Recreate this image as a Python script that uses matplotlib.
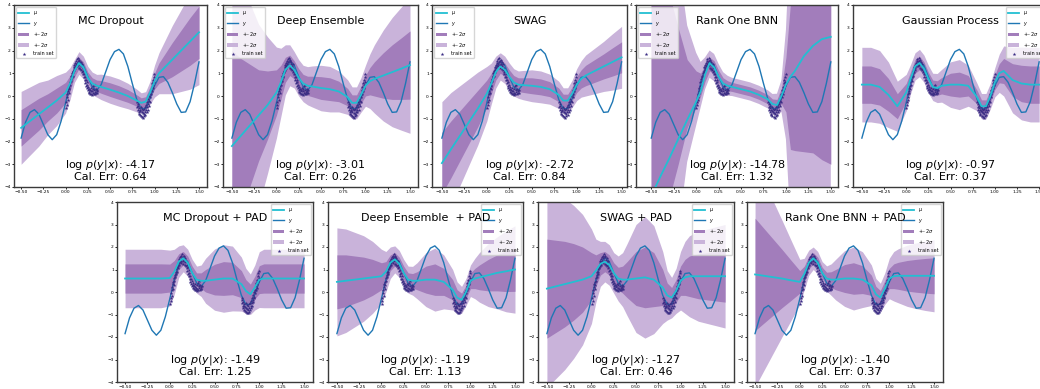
import numpy as np
import matplotlib.pyplot as plt

# ground truth function, sampled every 0.05 on [-0.5, 1.5]
X_TRUE = np.linspace(-0.5, 1.5, 41)
Y_TRUE = [-1.85, -1.15, -0.72, -0.6, -0.8, -1.25, -1.7, -1.92, -1.7, -1.1,
          -0.3, 0.55, 1.2, 1.52, 1.35, 0.85, 0.4, 0.25, 0.5, 1.05,
          1.6, 1.95, 2.05, 1.85, 1.3, 0.55, -0.15, -0.55, -0.55, -0.1,
          0.45, 0.82, 0.85, 0.6, 0.15, -0.35, -0.72, -0.7, -0.25, 0.55, 1.5]

# training points, two clusters
TRAIN_X = [0.003, 0.008, 0.012, 0.017, 0.021, 0.024, 0.029, 0.033, 0.036, 0.041,
           0.044, 0.048, 0.052, 0.057, 0.061, 0.064, 0.069, 0.073, 0.078, 0.082,
           0.086, 0.091, 0.094, 0.099, 0.103, 0.108, 0.112, 0.117, 0.121, 0.126,
           0.13, 0.134, 0.139, 0.143, 0.147, 0.152, 0.156, 0.161, 0.165, 0.169,
           0.174, 0.178, 0.183, 0.187, 0.191, 0.196, 0.2, 0.205, 0.209, 0.214,
           0.218, 0.223, 0.227, 0.231, 0.236, 0.24, 0.245, 0.249, 0.254, 0.258,
           0.263, 0.267, 0.272, 0.276, 0.281, 0.285, 0.29, 0.294, 0.299, 0.303,
           0.308, 0.312, 0.317, 0.321, 0.326, 0.33, 0.335, 0.339, 0.344, 0.348,
           0.353, 0.358,
           0.802, 0.806, 0.81, 0.814, 0.818, 0.822, 0.826, 0.83, 0.834, 0.838,
           0.842, 0.846, 0.85, 0.854, 0.858, 0.862, 0.866, 0.87, 0.874, 0.878,
           0.882, 0.886, 0.89, 0.894, 0.898, 0.902, 0.906, 0.91, 0.914, 0.918,
           0.922, 0.926, 0.93, 0.934, 0.938, 0.942, 0.946, 0.95, 0.954, 0.958,
           0.962, 0.966, 0.97, 0.974, 0.978, 0.982, 0.986, 0.99, 0.994, 0.998]
TRAIN_Y = [-0.52, -0.25, -0.38, -0.05, 0.08, -0.18, 0.22, 0.35, 0.12, 0.45,
           0.32, 0.62, 0.5, 0.74, 0.66, 0.9, 0.82, 1.02, 0.88, 1.12,
           1.05, 1.28, 1.16, 1.38, 1.22, 1.45, 1.33, 1.55, 1.4, 1.62,
           1.3, 1.5, 1.68, 1.38, 1.56, 1.25, 1.6, 1.42, 1.18, 1.5,
           1.32, 1.15, 1.4, 1.05, 1.22, 0.95, 1.1, 0.82, 0.98, 0.7,
           0.85, 0.58, 0.72, 0.45, 0.6, 0.35, 0.48, 0.25, 0.4, 0.18,
           0.32, 0.12, 0.28, 0.08, 0.22, 0.35, 0.1, 0.2, 0.05, 0.3,
           0.15, 0.42, 0.1, 0.25, 0.5, 0.18, 0.08, 0.3, 0.15, 0.22,
           0.12, 0.28,
           -0.28, -0.5, -0.35, -0.62, -0.45, -0.7, -0.52, -0.78, -0.6, -0.85,
           -0.66, -0.5, -0.88, -0.72, -0.58, -0.92, -0.75, -0.62, -0.95, -0.8,
           -0.55, -0.88, -0.7, -0.5, -0.82, -0.62, -0.4, -0.72, -0.5, -0.28,
           -0.6, -0.35, -0.15, -0.45, -0.2, 0.02, -0.25, 0.1, -0.05, 0.25,
           0.08, 0.4, 0.2, 0.55, 0.35, 0.7, 0.5, 0.85, 0.62, 0.95]

# predictive mean / std, tabulated on this grid
X_PRED = [-0.5, -0.4, -0.3, -0.2, -0.1, 0.0, 0.05, 0.1, 0.15, 0.2,
          0.25, 0.3, 0.35, 0.4, 0.5, 0.6, 0.7, 0.8, 0.85, 0.9,
          0.95, 1.0, 1.05, 1.1, 1.2, 1.3, 1.4, 1.5]

MCD_MU = [-1.4, -1.1, -0.8, -0.5, -0.2, 0.15, 0.55, 1.1, 1.45, 1.25,
          0.8, 0.55, 0.45, 0.4, 0.28, 0.15, 0.0, -0.2, -0.3, -0.25,
          0.15, 0.65, 1.0, 1.2, 1.6, 2.0, 2.4, 2.8]
MCD_SD = [0.8, 0.75, 0.7, 0.6, 0.55, 0.45, 0.35, 0.25, 0.25, 0.25,
          0.25, 0.25, 0.25, 0.28, 0.3, 0.3, 0.28, 0.25, 0.22, 0.22,
          0.25, 0.35, 0.45, 0.55, 0.75, 0.9, 1.05, 1.15]

DE_MU = [-2.2, -1.75, -1.3, -0.85, -0.4, 0.15, 0.6, 1.15, 1.35, 1.15,
         0.8, 0.55, 0.45, 0.42, 0.35, 0.3, 0.2, -0.05, -0.3, -0.3,
         0.05, 0.45, 0.65, 0.75, 0.9, 1.05, 1.2, 1.36]
DE_SD = [4.2, 3.4, 2.7, 2.0, 1.5, 1.0, 0.75, 0.55, 0.45, 0.4,
         0.4, 0.4, 0.42, 0.45, 0.5, 0.5, 0.45, 0.38, 0.35, 0.35,
         0.38, 0.45, 0.6, 0.75, 1.0, 1.2, 1.35, 1.5]

SWAG_MU = [-2.95, -2.35, -1.75, -1.15, -0.55, 0.1, 0.55, 1.05, 1.3, 1.15,
           0.85, 0.6, 0.5, 0.48, 0.45, 0.4, 0.3, 0.05, -0.2, -0.2,
           0.1, 0.5, 0.75, 0.9, 1.1, 1.3, 1.5, 1.7]
SWAG_SD = [1.35, 1.25, 1.1, 0.95, 0.8, 0.6, 0.45, 0.35, 0.3, 0.3,
           0.3, 0.3, 0.3, 0.32, 0.35, 0.35, 0.33, 0.3, 0.28, 0.28,
           0.3, 0.35, 0.4, 0.45, 0.5, 0.55, 0.62, 0.68]

# rank-one BNN: the band is not centred on the plotted mean
R1_MU = [-4.4, -3.55, -2.75, -1.9, -1.05, -0.25, 0.2, 0.95, 1.45, 1.25,
         0.85, 0.55, 0.45, 0.4, 0.3, 0.2, 0.05, -0.15, -0.35, -0.4,
         0.0, 0.5, 0.85, 1.1, 1.75, 2.2, 2.5, 2.6]
R1_MID = [0.0, 0.0, 0.0, 0.0, 0.1, 0.3, 0.5, 1.0, 1.4, 1.25,
          0.85, 0.55, 0.45, 0.4, 0.3, 0.2, 0.05, -0.15, -0.35, -0.4,
          0.0, 0.5, 0.85, 0.9, 0.95, 1.0, 1.0, 1.0]
R1_SD = [6.0, 5.5, 4.5, 3.0, 1.5, 0.8, 0.5, 0.35, 0.3, 0.3,
         0.28, 0.25, 0.22, 0.2, 0.2, 0.2, 0.2, 0.2, 0.22, 0.25,
         0.35, 1.2, 3.2, 3.3, 3.4, 3.5, 3.8, 4.0]

GP_MU = [0.5, 0.5, 0.4, 0.05, -0.45, 0.15, 0.75, 1.3, 1.45, 1.2,
         0.75, 0.4, 0.35, 0.45, 0.5, 0.5, 0.45, -0.05, -0.45, -0.45,
         0.0, 0.6, 1.0, 1.1, 0.7, 0.55, 0.5, 0.5]
GP_SD = [0.82, 0.82, 0.8, 0.72, 0.55, 0.4, 0.32, 0.3, 0.3, 0.3,
         0.3, 0.3, 0.32, 0.36, 0.5, 0.55, 0.45, 0.3, 0.28, 0.28,
         0.28, 0.32, 0.42, 0.55, 0.72, 0.8, 0.82, 0.82]

MCDP_MU = [0.6, 0.6, 0.6, 0.6, 0.6, 0.62, 0.9, 1.35, 1.5, 1.3,
           0.85, 0.55, 0.5, 0.5, 0.55, 0.6, 0.6, 0.35, 0.05, -0.1,
           0.2, 0.55, 0.6, 0.6, 0.6, 0.6, 0.6, 0.6]
MCDP_SD = [0.65, 0.65, 0.65, 0.65, 0.65, 0.62, 0.5, 0.35, 0.3, 0.3,
           0.3, 0.3, 0.35, 0.5, 0.68, 0.75, 0.72, 0.6, 0.5, 0.45,
           0.5, 0.62, 0.65, 0.65, 0.65, 0.65, 0.65, 0.65]

DEP_MU = [0.45, 0.5, 0.55, 0.6, 0.65, 0.7, 0.9, 1.3, 1.45, 1.25,
          0.85, 0.55, 0.5, 0.5, 0.55, 0.55, 0.45, 0.1, -0.25, -0.35,
          0.0, 0.5, 0.6, 0.65, 0.75, 0.85, 0.92, 1.0]
DEP_SD = [1.2, 1.15, 1.05, 0.95, 0.8, 0.6, 0.45, 0.35, 0.3, 0.3,
          0.3, 0.3, 0.32, 0.4, 0.6, 0.7, 0.6, 0.45, 0.35, 0.3,
          0.3, 0.35, 0.45, 0.55, 0.7, 0.8, 0.9, 0.97]

SWP_MU = [0.15, 0.25, 0.35, 0.45, 0.55, 0.7, 0.95, 1.25, 1.35, 1.2,
          0.85, 0.6, 0.55, 0.55, 0.6, 0.65, 0.55, 0.2, -0.15, -0.25,
          0.05, 0.5, 0.65, 0.7, 0.7, 0.7, 0.7, 0.7]
SWP_SD = [2.2, 2.05, 1.9, 1.7, 1.45, 1.05, 0.7, 0.5, 0.45, 0.45,
          0.45, 0.5, 0.6, 0.8, 1.2, 1.35, 1.2, 0.8, 0.55, 0.45,
          0.5, 0.65, 0.8, 0.9, 1.0, 1.05, 1.1, 1.15]

R1P_MU = [0.78, 0.72, 0.66, 0.6, 0.52, 0.45, 0.8, 1.3, 1.5, 1.3,
          0.85, 0.6, 0.55, 0.55, 0.6, 0.6, 0.55, 0.3, -0.1, -0.25,
          0.15, 0.6, 0.7, 0.72, 0.72, 0.72, 0.72, 0.72]
R1P_SD = [2.5, 2.1, 1.7, 1.3, 0.9, 0.5, 0.35, 0.28, 0.25, 0.25,
          0.25, 0.28, 0.35, 0.45, 0.62, 0.7, 0.62, 0.45, 0.35, 0.32,
          0.35, 0.45, 0.55, 0.6, 0.68, 0.73, 0.77, 0.8]

TITLES = ["MC Dropout", "Deep Ensemble", "SWAG", "Rank One BNN", "Gaussian Process",
          "MC Dropout + PAD", "Deep Ensemble  + PAD", "SWAG + PAD", "Rank One BNN + PAD"]
LOG_LIK = ["-4.17", "-3.01", "-2.72", "-14.78", "-0.97", "-1.49", "-1.19", "-1.27", "-1.40"]
CAL_ERR = ["0.64", "0.26", "0.84", "1.32", "0.37", "1.25", "1.13", "0.46", "0.37"]

MU_COLOR = "#22bfd2"
Y_COLOR = "#1f77b4"
DARK = "#a27dbb"
LIGHT = "#c9b3da"
PT_COLOR = "#3b2d84"

FIG_W, FIG_H = 1040, 389
# axes boxes in pixels: left, top, right, bottom
BOXES = [(14, 5, 207, 187), (223, 5, 418, 187), (432, 5, 627, 187),
         (636, 5, 838, 187), (853, 5, 1048, 187),
         (117, 202, 313, 382), (328, 202, 523, 382), (538, 202, 734, 382),
         (747, 202, 943, 382)]
XLIMS = [(-0.58, 1.59), (-0.6, 1.59), (-0.61, 1.56), (-0.67, 1.58), (-0.6, 1.6),
         (-0.59, 1.6), (-0.6, 1.59), (-0.6, 1.6), (-0.59, 1.6)]
LEGEND_LOCS = ["upper left"] * 4 + ["upper right"] * 5


def draw_panel(ax, mu, sd, mid, title, ll, ce, loc, xlim):
    x = np.array(X_PRED)
    mu = np.array(mu)
    sd = np.array(sd)
    c = mu if mid is None else np.array(mid)

    ax.plot(x, mu, color=MU_COLOR, lw=1.3, label=r"$\mu$", zorder=5)
    ax.plot(X_TRUE, Y_TRUE, color=Y_COLOR, lw=1.0, label=r"$y$", zorder=3)
    ax.fill_between(x, c - sd, c + sd, color=DARK, lw=0,
                    label=r"+- 2$\sigma$", zorder=2)
    ax.fill_between(x, c - 2 * sd, c + 2 * sd, color=LIGHT, lw=0,
                    label=r"+- 2$\sigma$", zorder=1)
    ax.scatter(TRAIN_X, TRAIN_Y, s=8, marker="*", color=PT_COLOR, lw=0,
               label="train set", zorder=4)

    ax.set_xlim(*xlim)
    ax.set_ylim(-4, 4)
    ax.set_xticks([-0.5, -0.25, 0.0, 0.25, 0.5, 0.75, 1.0, 1.25, 1.5])
    ax.set_yticks(range(-4, 5))
    ax.tick_params(labelsize=3.2, length=1.5, width=0.6, pad=0.8)
    for s in ax.spines.values():
        s.set_linewidth(1.0)
        s.set_color("#3a3a3a")

    ax.text(0.5, 0.91, title, ha="center", va="center", fontsize=8,
            transform=ax.transAxes, zorder=6)
    ax.text(0.5, 0.028, "log $p(y|x)$: " + ll + "\nCal. Err: " + ce,
            ha="center", va="bottom", multialignment="center", fontsize=8,
            linespacing=1.05, transform=ax.transAxes, zorder=6)
    ax.legend(loc=loc, fontsize=3.5, handlelength=2.2, borderpad=0.4,
              labelspacing=0.5, handletextpad=0.8, framealpha=0.8)


panels = [(MCD_MU, MCD_SD, None), (DE_MU, DE_SD, None), (SWAG_MU, SWAG_SD, None),
          (R1_MU, R1_SD, R1_MID), (GP_MU, GP_SD, None),
          (MCDP_MU, MCDP_SD, None), (DEP_MU, DEP_SD, None), (SWP_MU, SWP_SD, None),
          (R1P_MU, R1P_SD, None)]

fig = plt.figure(figsize=(FIG_W / 100, FIG_H / 100), dpi=100)
for i, (mu, sd, mid) in enumerate(panels):
    l, t, r, b = BOXES[i]
    ax = fig.add_axes([l / FIG_W, 1 - b / FIG_H, (r - l) / FIG_W, (b - t) / FIG_H])
    draw_panel(ax, mu, sd, mid, TITLES[i], LOG_LIK[i], CAL_ERR[i],
               LEGEND_LOCS[i], XLIMS[i])

fig.savefig("out.png", dpi=100)
